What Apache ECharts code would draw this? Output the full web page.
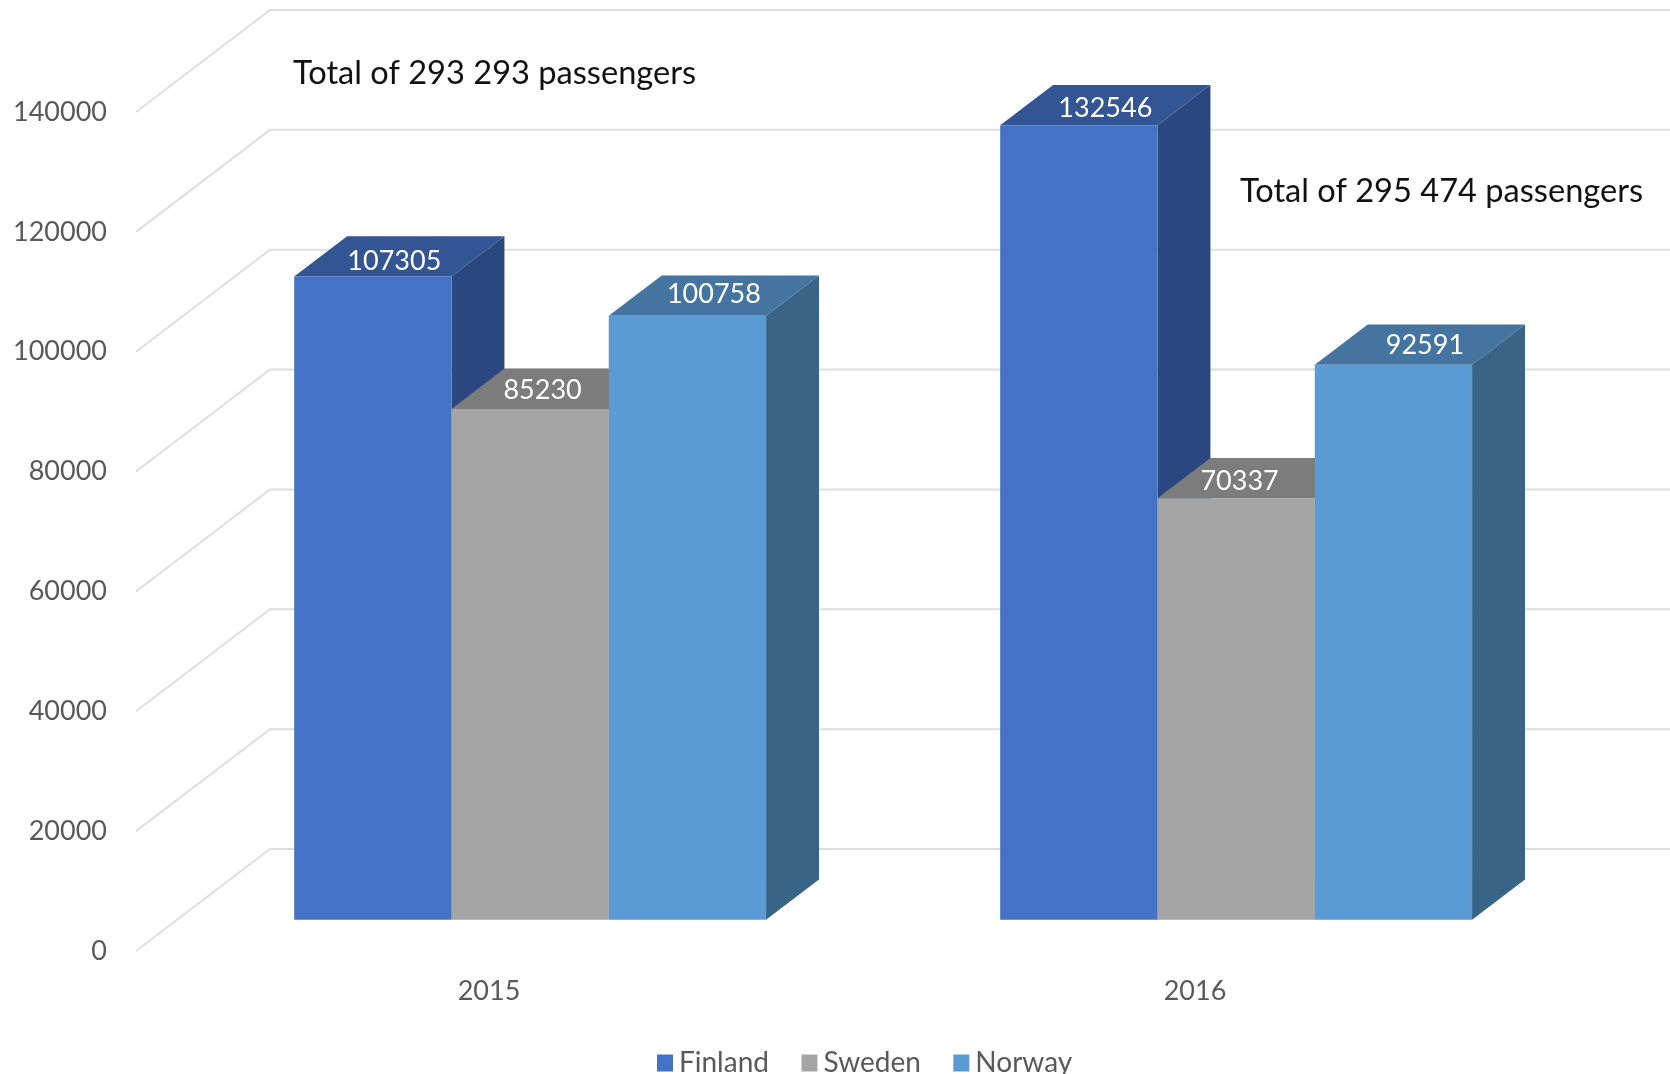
<!DOCTYPE html>
<html>
<head>
<meta charset="utf-8">
<title>Passengers 2015-2016</title>
<script src="https://cdn.jsdelivr.net/npm/echarts@6/dist/echarts.min.js"></script>
<style>
  html, body { margin: 0; padding: 0; background: #fff; overflow: hidden; }
  #chart { width: 1670px; height: 1074px; }
</style>
</head>
<body>
<div id="chart"></div>
<script>
// values
const years = ['2015', '2016'];
const finland = [107305, 132546];
const sweden = [85230, 70337];
const norway = [100758, 92591];
const yTicks = [0, 20000, 40000, 60000, 80000, 100000, 120000, 140000];
const notes = ['Total of 293 293 passengers', 'Total of 295 474 passengers'];

// fake 3d: how far the back wall sits from the axis plane, in px
const wallDx = 134;
const wallDy = 102;
const barFront = 0.307;  // share of the floor depth in front of the bars
const barDepth = 0.395;  // share of the floor depth the bars take
const barShare = 0.2228; // one bar as share of a category band

const fontName = 'Lato, "Open Sans", sans-serif';

function wallItem(params, api) {
    const y = api.coord([0, api.value(0)])[1];
    const x = params.coordSys.x;
    return {
        type: 'polyline',
        silent: true,
        shape: { points: [[x, y], [x + wallDx, y - wallDy], [api.getWidth(), y - wallDy]] },
        style: { fill: null, stroke: '#DEDEDE', lineWidth: 2 }
    };
}

// draws one bar as three polygons, slot is 0,1,2 inside the category
function barItem(slot, colors, labelShift) {
    return function (params, api) {
        const cat = api.value(0);
        const val = api.value(1);
        const top = api.coord([cat, val]);
        const zero = api.coord([cat, 0]);
        const w = api.size([1, 0])[0] * barShare;
        const x0 = top[0] + wallDx * barFront + (slot - 1.5) * w;
        const x1 = x0 + w;
        const yTop = top[1] - wallDy * barFront;
        const yBase = zero[1] - wallDy * barFront;
        const dx = wallDx * barDepth;
        const dy = wallDy * barDepth;
        const shift = labelShift[cat];
        return {
            type: 'group',
            children: [
                {
                    type: 'polygon',
                    shape: { points: [[x1, yTop], [x1 + dx, yTop - dy], [x1 + dx, yBase - dy], [x1, yBase]] },
                    style: { fill: colors.side }
                },
                {
                    type: 'polygon',
                    shape: { points: [[x0, yTop], [x1, yTop], [x1 + dx, yTop - dy], [x0 + dx, yTop - dy]] },
                    style: { fill: colors.top }
                },
                {
                    type: 'rect',
                    shape: { x: x0, y: yTop, width: w, height: yBase - yTop },
                    style: { fill: colors.front }
                },
                {
                    type: 'text',
                    style: {
                        text: String(val),
                        x: x0 + w / 2 + dx / 2 + shift[0],
                        y: yTop - dy / 2 + shift[1],
                        fill: '#fff',
                        align: 'center',
                        verticalAlign: 'middle',
                        fontSize: 27,
                        fontFamily: fontName
                    }
                }
            ]
        };
    };
}

function barSeries(name, values, slot, colors, labelShift) {
    return {
        name: name,
        type: 'custom',
        z: 3,
        clip: false,
        itemStyle: { color: colors.front },
        encode: { x: 0, y: 1 },
        data: values.map((v, i) => [i, v]),
        renderItem: barItem(slot, colors, labelShift)
    };
}

const chart = echarts.init(document.getElementById('chart'), null, { renderer: 'canvas' });

chart.setOption({
    animation: false,
    grid: { left: 136, top: 112, width: 1412, bottom: 123, containLabel: false },
    legend: {
        data: ['Finland', 'Sweden', 'Norway'],
        left: 652,
        top: 1044,
        icon: 'rect',
        itemWidth: 16,
        itemHeight: 17,
        itemGap: 32.5,
        textStyle: { color: '#595959', fontSize: 28, fontFamily: fontName, padding: [0, 0, 0, 1] }
    },
    xAxis: {
        type: 'category',
        data: years,
        axisLine: { show: false },
        axisTick: { show: false },
        axisLabel: { color: '#595959', fontSize: 27, fontFamily: fontName, margin: 27 }
    },
    yAxis: {
        type: 'value',
        min: 0,
        max: 140000,
        interval: 20000,
        axisLine: { show: false },
        axisTick: { show: false },
        splitLine: { show: false },
        axisLabel: {
            color: '#595959',
            fontSize: 27,
            fontFamily: fontName,
            margin: 29,
            padding: [7, 0, 0, 0],
            formatter: v => String(v)
        }
    },
    graphic: [
        { type: 'text', left: 293, top: 57, style: { text: notes[0], fill: '#111', fontSize: 32.6, fontFamily: fontName } },
        { type: 'text', left: 1240, top: 175, style: { text: notes[1], fill: '#111', fontSize: 32.6, fontFamily: fontName } }
    ],
    series: [
        {
            name: 'wall',
            type: 'custom',
            z: 1,
            silent: true,
            clip: false,
            encode: { y: 0 },
            data: yTicks.map(v => [v]),
            renderItem: wallItem
        },
        barSeries('Finland', finland, 0, { front: '#4472C4', top: '#335593', side: '#2A4780' }, [[-5, 5], [0, 3]]),
        barSeries('Sweden', sweden, 1, { front: '#A5A5A5', top: '#7C7C7C', side: '#636363' }, [[-14, 2], [-23, 3]]),
        barSeries('Norway', norway, 2, { front: '#5B9BD5', top: '#44749F', side: '#386488' }, [[0, -1], [5, 1]])
    ]
});
</script>
</body>
</html>
